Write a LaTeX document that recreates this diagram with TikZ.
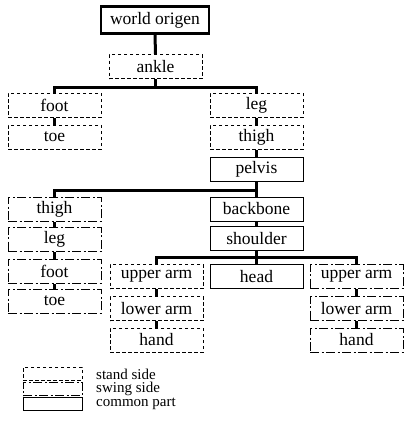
\documentclass[tikz,border=0pt]{standalone}
\usepackage{fontspec}
\setmainfont{Liberation Serif}
\usetikzlibrary{positioning}

\tikzset{
  part/.style={minimum width=93pt, minimum height=24pt, inner sep=0pt, line width=1pt,
    font=\fontsize{17.5}{20}\selectfont},
  standbox/.style={part, dash pattern=on 3.5pt off 2.5pt},
  swingbox/.style={part, dash pattern=on 9pt off 2.5pt on 2pt off 2.5pt},
  commonbox/.style={part, draw},
  rootbox/.style={part, draw, line width=2.8pt, minimum width=108pt, minimum height=27pt},
  link/.style={line width=3pt},
  keytext/.style={anchor=west, inner sep=0pt, font=\fontsize{15}{16}\selectfont}
}

\begin{document}
\begin{tikzpicture}[x=1pt, y=-1pt]
    \useasboundingbox (0,0) rectangle (404,431);

    % trunk
    \node[rootbox] (origin) at (155,20) {world origen};
    \node[standbox, draw] (ankle) at (155.5,66.5) {ankle};
    \node[standbox, draw] (sfoot) at (54.5,105) {foot};
    \node[standbox, draw] (stoe) at (54.5,137) {toe};
    \node[standbox, draw] (sleg) at (256.5,105) {leg};
    \node[standbox, draw] (sthigh) at (256.5,137) {thigh};
    \node[commonbox] (pelvis) at (256.5,169) {pelvis};

    % swing leg
    \node[swingbox, draw] (wthigh) at (54.5,209) {thigh};
    \node[swingbox, draw] (wleg) at (54.5,239.5) {leg};
    \node[swingbox, draw] (wfoot) at (54.5,271) {foot};
    \node[swingbox, draw] (wtoe) at (54.5,301) {toe};

    % upper body
    \node[commonbox] (backbone) at (256.5,209) {backbone};
    \node[commonbox] (shoulder) at (256.5,238.5) {shoulder};
    \node[commonbox] (head) at (256.5,276.5) {head};
    \node[standbox, draw] (supper) at (156.5,276.5) {upper arm};
    \node[standbox, draw] (slower) at (156.5,308.5) {lower arm};
    \node[standbox, draw] (shand) at (156.5,340) {hand};
    \node[swingbox, draw] (wupper) at (356.5,276.5) {upper arm};
    \node[swingbox, draw] (wlower) at (356.5,308.5) {lower arm};
    \node[swingbox, draw] (whand) at (356.5,340) {hand};

    % junctions
    \coordinate (j1) at (155.5,87);
    \coordinate (j2) at (256.5,190);
    \coordinate (j3) at (256.5,257);

    \draw[link] (origin.south) -- (ankle.north);
    \draw[link] (ankle.south) -- (j1);
    \draw[link] (j1) -| (sfoot.north);
    \draw[link] (j1) -| (sleg.north);
    \draw[link] (sfoot.south) -- (stoe.north);
    \draw[link] (sleg.south) -- (sthigh.north);
    \draw[link] (sthigh.south) -- (pelvis.north);
    \draw[link] (pelvis.south) -- (j2);
    \draw[link] (j2) -| (wthigh.north);
    \draw[link] (j2) -- (backbone.north);
    \draw[link] (wthigh.south) -- (wleg.north);
    \draw[link] (wleg.south) -- (wfoot.north);
    \draw[link] (wfoot.south) -- (wtoe.north);
    \draw[link] (backbone.south) -- (shoulder.north);
    \draw[link] (shoulder.south) -- (j3);
    \draw[link] (j3) -| (supper.north);
    \draw[link] (j3) -| (wupper.north);
    \draw[link] (j3) -- (head.north);
    \draw[link] (supper.south) -- (slower.north);
    \draw[link] (slower.south) -- (shand.north);
    \draw[link] (wupper.south) -- (wlower.north);
    \draw[link] (wlower.south) -- (whand.north);

    % key
    \node[standbox, draw, minimum width=59pt, minimum height=13pt] (kstand) at (52.5,373.5) {};
    \node[swingbox, draw, minimum width=59pt, minimum height=13pt] (kswing) at (52.5,389) {};
    \node[commonbox, minimum width=59pt, minimum height=13pt] (kcommon) at (52.5,404) {};
    \node[keytext] (tstand) at (96,374) {stand side};
    \node[keytext] (tswing) at (96,389) {swing side};
    \node[keytext] (tcommon) at (96,404) {common part};

\end{tikzpicture}
\end{document}
